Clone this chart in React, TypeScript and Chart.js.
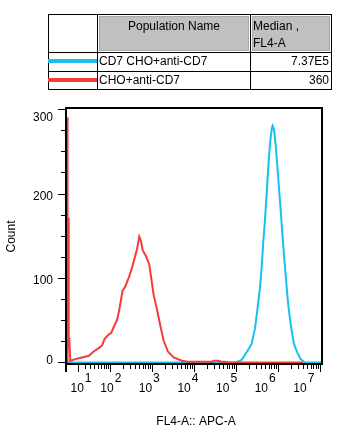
import React, { useEffect, useRef } from 'react';
import { Chart, LinearScale, registerables } from 'chart.js';

Chart.register(...registerables);

// ---------------- data ----------------
const redValues = [-3.2, -2.9, -2.42, -2.4, -1.21, -1.2, -0.48, 0.72, 6.9, 16, 27.5, 38, 51.5, 63, 73, 92, 106, 122, 146, 166, 185, 200, 231, 279, 334, 388, 440, 499, 548, 601, 719, 861, 961, 1097, 1314, 1574, 1896, 2400, 3283, 5173, 7187, 13877, 26770, 29380, 38650, 44000, 54580, 60000, 3930000];
const redCounts = [0, 290, 290, 170, 170, 28, 28, 2, 4, 6, 8, 13, 17, 20, 28, 33, 35, 42, 50, 62, 76, 85, 90, 100, 112, 124, 134, 149, 144, 133, 126, 116, 100, 80, 63, 44, 26, 13, 6, 2, 1, 1, 1, 2, 2, 1, 1, 0, 0];

const blueValues = [-4.4, 100000, 136500, 179600, 236100, 283300, 321300, 372600, 409000, 446500, 490000, 537800, 587300, 644500, 707600, 747000, 802600, 880700, 962000, 1073000, 1178000, 1293000, 1411000, 1549000, 1701000, 1856000, 2118000, 2403000, 2880000, 3468000, 4391000, 11200000];
const blueCounts = [0, 0, 3, 12, 22, 40, 61, 88, 112, 142, 168, 199, 230, 258, 276, 280, 276, 258, 234, 203, 176, 148, 124, 100, 76, 58, 38, 22, 12, 4, 0, 0];

const xDecades = [10, 100, 1000, 10000, 100000, 1000000, 10000000];
const xExponents = ['1', '2', '3', '4', '5', '6', '7'];
const xMinorMultipliers = [2, 3, 4, 5, 6, 7, 8, 9];
const yMajorTicks = [0, 100, 200, 300];
const yMinorTicks = [25, 50, 75, 125, 150, 175, 225, 250, 275];

const populationNames = ['CD7 CHO+anti-CD7', 'CHO+anti-CD7'];
const medians = ['7.37E5', '360'];

const BLUE = '#17c0ef';
const RED = '#f53b3b';
const FONT = '"Liberation Sans", Arial, sans-serif';

// --------------- biexponential-like scale ---------------
const BIEX_W = 22;
const tf = (v: number) => Math.asinh(v / BIEX_W);

class BiexScale extends LinearScale {
  static id = 'biex';
  static defaults = {};
  _tStart = 0;
  _tRange = 1;
  configure() {
    super.configure();
    this._tStart = tf(this.min);
    this._tRange = tf(this.max) - this._tStart;
  }
  getPixelForValue(value: number) {
    return this.getPixelForDecimal((tf(value) - this._tStart) / this._tRange);
  }
  getValueForPixel(pixel: number) {
    return BIEX_W * Math.sinh(this._tStart + this.getDecimalForPixel(pixel) * this._tRange);
  }
}
Chart.register(BiexScale as any);

const axesPlugin = {
  id: 'flowAxes',
  afterDraw(chart: any) {
    const { ctx, chartArea: a } = chart;
    const x = chart.scales.x;
    const y = chart.scales.y;
    ctx.save();
    ctx.fillStyle = '#000';
    ctx.strokeStyle = '#000';

    // frame
    ctx.lineWidth = 2;
    ctx.strokeRect(a.left, a.top, a.right - a.left, a.bottom - a.top);
    ctx.fillRect(a.left - 1, a.bottom, 2, 8);

    // x ticks
    xDecades.forEach((d) => {
      const vals = [d].concat(xMinorMultipliers.map((m) => d * m));
      vals.forEach((v, k) => {
        const px = Math.round(x.getPixelForValue(v));
        if (!(px <= a.right + 1)) return;
        ctx.fillRect(px, a.bottom + 1, 1, k === 0 ? 7 : 4);
      });
    });
    // y ticks
    yMajorTicks.forEach((v) => {
      const py = Math.round(y.getPixelForValue(v));
      ctx.fillRect(a.left - 8, py, 7, 1);
    });
    yMinorTicks.forEach((v) => {
      const py = Math.round(y.getPixelForValue(v));
      ctx.fillRect(a.left - 5, py, 4, 1);
    });

    // x labels
    ctx.font = `12px ${FONT}`;
    ctx.textBaseline = 'alphabetic';
    ctx.textAlign = 'left';
    xDecades.forEach((d, i) => {
      const px = x.getPixelForValue(d);
      const cx = a.left + 4.2 + 0.92 * (px - a.left);
      const wBase = ctx.measureText('10').width;
      const wExp = ctx.measureText(xExponents[i]).width;
      const left = cx - (wBase + 1 + wExp) / 2;
      ctx.fillText('10', left, a.bottom + 28);
      ctx.fillText(xExponents[i], left + wBase + 1, a.bottom + 18);
    });

    // y labels
    ctx.textAlign = 'right';
    ctx.textBaseline = 'middle';
    yMajorTicks.forEach((v) => {
      const py = y.getPixelForValue(v);
      const ly = Math.min(Math.max(py + 3, a.top + 10), a.bottom - 3);
      ctx.fillText(String(v), a.left - 13, ly);
    });

    // titles
    ctx.textAlign = 'center';
    ctx.fillText('FL4-A:: APC-A', (a.left + a.right) / 2 + 2, a.bottom + 57.5);
    ctx.translate(12, (a.top + a.bottom) / 2 + 0.5);
    ctx.rotate(-Math.PI / 2);
    ctx.fillText('Count', 0, 0);
    ctx.restore();
  },
};

export default function App() {
  const ref = useRef<HTMLCanvasElement>(null);
  useEffect(() => {
    const chart = new Chart(ref.current as HTMLCanvasElement, {
      type: 'line',
      data: {
        datasets: [
          {
            label: populationNames[1],
            data: redValues.map((v, i) => ({ x: v, y: redCounts[i] })),
            borderColor: RED,
            borderWidth: 2,
            pointRadius: 0,
            tension: 0,
            fill: false,
          },
          {
            label: populationNames[0],
            data: blueValues.map((v, i) => ({ x: v, y: blueCounts[i] })),
            borderColor: BLUE,
            borderWidth: 2,
            pointRadius: 0,
            tension: 0,
            fill: false,
          },
        ],
      },
      options: {
        responsive: false,
        devicePixelRatio: 1,
        animation: false,
        layout: { padding: { left: 66, top: 108, right: 18, bottom: 77 } },
        scales: {
          x: { type: 'biex' as any, min: -4.49, max: 11200000, display: false },
          y: { type: 'linear', min: -1.8, max: 301.2, display: false },
        },
        plugins: { legend: { display: false }, tooltip: { enabled: false } },
      },
      plugins: [axesPlugin],
    });
    return () => chart.destroy();
  }, []);

  const txt: React.CSSProperties = {
    position: 'absolute',
    fontFamily: FONT,
    fontSize: 12,
    lineHeight: '14px',
    color: '#000',
    whiteSpace: 'nowrap',
  };
  const line = (l: number, t: number, w: number, h: number): React.CSSProperties => ({
    position: 'absolute',
    left: l,
    top: t,
    width: w,
    height: h,
    background: '#000',
  });
  const gray = (l: number, t: number, w: number, h: number): React.CSSProperties => ({
    position: 'absolute',
    left: l,
    top: t,
    width: w,
    height: h,
    background: '#c0c0c0',
    boxSizing: 'border-box',
    border: '1px solid #a9a9a9',
  });

  return (
    <div style={{ position: 'absolute', left: 0, top: 0, width: 340, height: 441, background: '#fff', overflow: 'hidden' }}>
      <canvas ref={ref} width={340} height={441} style={{ position: 'absolute', left: 0, top: 0, width: 340, height: 441 }} />
      {/* table */}
      <div style={gray(99, 16, 150, 35)} />
      <div style={gray(252, 16, 78, 35)} />
      <div style={line(48, 14, 284, 1)} />
      <div style={line(48, 89, 284, 1)} />
      <div style={line(48, 14, 1, 76)} />
      <div style={line(331, 14, 1, 76)} />
      <div style={line(97, 14, 1, 76)} />
      <div style={line(250, 14, 1, 76)} />
      <div style={line(48, 52, 284, 1)} />
      <div style={line(48, 71, 284, 1)} />
      <div style={{ ...txt, left: 99, top: 19, width: 150, textAlign: 'center' }}>Population Name</div>
      <div style={{ ...txt, left: 253, top: 18, lineHeight: '17px' }}>
        Median ,<br />FL4-A
      </div>
      <div style={{ position: 'absolute', left: 48, top: 59, width: 49, height: 4, background: BLUE }} />
      <div style={{ position: 'absolute', left: 48, top: 78, width: 49, height: 4, background: RED }} />
      <div style={{ ...txt, left: 99, top: 54 }}>{populationNames[0]}</div>
      <div style={{ ...txt, left: 252, top: 54, width: 77, textAlign: 'right' }}>{medians[0]}</div>
      <div style={{ ...txt, left: 99, top: 73 }}>{populationNames[1]}</div>
      <div style={{ ...txt, left: 252, top: 73, width: 77, textAlign: 'right' }}>{medians[1]}</div>
    </div>
  );
}
